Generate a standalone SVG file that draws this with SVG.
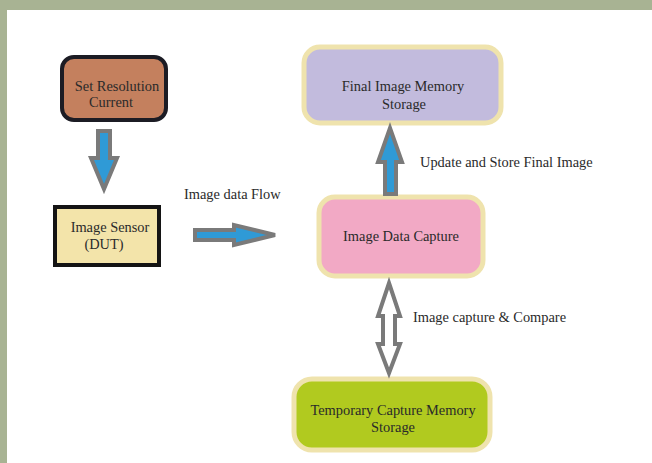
<svg xmlns="http://www.w3.org/2000/svg" width="652" height="463" viewBox="0 0 652 463">
<style>
text{font-family:"Liberation Serif","Times New Roman",serif;font-size:14.4px;fill:#2a2a2a;text-anchor:middle}
.lbl{text-anchor:start}
.arr{fill:#2f9ad6;stroke:#7a7a7a;stroke-width:4;stroke-linejoin:miter}
.hol{fill:#ffffff;stroke:#7a7a7a;stroke-width:4;stroke-linejoin:miter}
.soft{stroke:#efe3ad;stroke-width:5}
</style>
<rect x="0" y="0" width="652" height="463" fill="#a8b393"/>
<rect x="7" y="10" width="645" height="453" fill="#ffffff"/>
<g id="set-resolution">
<rect x="62" y="57" width="104" height="63" rx="12" fill="#c4805e" stroke="#1c1c24" stroke-width="4"/>
<text x="117" y="91">Set Resolution</text>
<text x="111" y="107">Current</text>
</g>
<g id="image-sensor">
<rect x="55" y="207" width="104" height="58" fill="#f3e4aa" stroke="#141414" stroke-width="4"/>
<text x="110" y="232">Image Sensor</text>
<text x="104" y="249">(DUT)</text>
</g>
<g id="final-storage">
<rect x="304" y="47" width="197" height="76" rx="16" fill="#c2bbdd" class="soft"/>
<text x="403" y="91">Final Image Memory</text>
<text x="404" y="109">Storage</text>
</g>
<g id="image-data-capture">
<rect x="319" y="197" width="164" height="79" rx="16" fill="#f2a9c5" class="soft"/>
<text x="401" y="241">Image Data Capture</text>
</g>
<g id="temp-storage">
<rect x="294" y="379" width="196" height="71" rx="18" fill="#b1ca1f" class="soft"/>
<text x="393" y="415">Temporary Capture Memory</text>
<text x="393" y="432">Storage</text>
</g>
<g id="connectors">
<path class="arr" d="M98 131 H110 V158 H117 L104 189 L91 158 H98 Z"/>
<path class="arr" d="M195 230 H234 V225 L275 235 L234 245 V240 H195 Z"/>
<path class="arr" d="M385 194 H396 V162 H402 L390 128 L378 162 H385 Z"/>
<path class="hol" d="M389 283 L400 316 H395 V344 H400 L389 373 L378 344 H383 V316 H378 Z"/>
<text class="lbl" x="184" y="199">Image data Flow</text>
<text class="lbl" x="420" y="167">Update and Store Final Image</text>
<text class="lbl" x="413" y="322">Image capture &amp; Compare</text>
</g>
</svg>
